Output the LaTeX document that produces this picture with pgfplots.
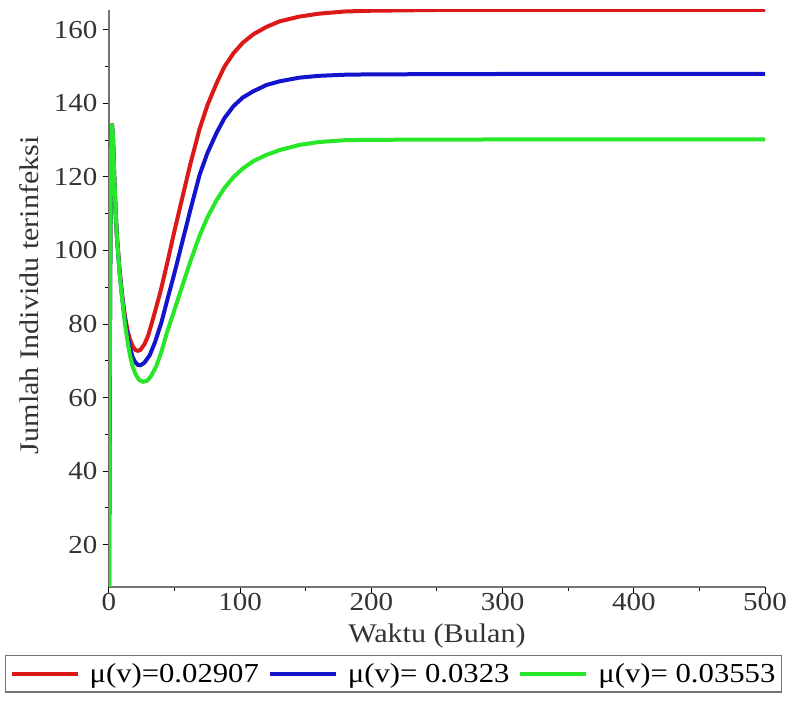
\documentclass[border=0pt]{standalone}
\usepackage{pgfplots}
\pgfplotsset{compat=1.18}
\usepackage{fontspec}
\setmainfont{Liberation Serif}[FakeStretch=1.12]
\definecolor{cred}{RGB}{220,25,25}
\definecolor{cblue}{RGB}{20,20,205}
\definecolor{cgreen}{RGB}{40,230,40}
\begin{document}
\begin{tikzpicture}
\begin{axis}[
    at={(0,0)}, anchor=south west,
    scale only axis,
    width=656bp, height=577bp,
    xmin=0, xmax=500,
    ymin=8.5, ymax=165.4,
    axis x line=bottom, axis y line=left,
    axis line style={-, draw=black!55, line width=1.2bp},
    xtick={0,100,...,500},
    ytick={20,40,...,160},
    minor x tick num=1, minor y tick num=1,
    tick align=outside,
    major tick length=6bp, minor tick length=4bp,
    tick style={black, line width=1bp},
    /pgf/number format/assume math mode=true,
    ticklabel style={font=\fontsize{26}{28}\selectfont, text=black!80},
    xticklabel style={yshift=1bp, inner ysep=1bp},
    yticklabel style={xshift=-2bp},
    xlabel={Waktu (Bulan)},
    ylabel={Jumlah Individu terinfeksi},
    label style={font=\fontsize{27}{30}\selectfont, text=black!80},
    xlabel style={at={(axis description cs:0.5,-0.085)}, anchor=center, inner ysep=1bp},
    ylabel style={at={(axis description cs:-0.122,0.506)}, anchor=center},
    legend columns=3,
    legend style={at={(0.4337,-0.1178)}, anchor=north,
        font=\fontsize{27.5}{30}\selectfont, draw=black!55, line width=1.5bp,
        inner xsep=4bp, inner ysep=6bp,
        /tikz/every even column/.append style={column sep=7bp},
        /tikz/every odd column/.append style={column sep=8bp}},
    legend image code/.code={\draw[#1] (0bp,0bp) -- (66bp,0bp);},
]
\addplot[cred, line width=4bp] coordinates {
(0,8.5) (0.5,60) (1,100) (1.5,125) (2.2,134.5) (3,131) (4,120) (5,111) (6,104)
(8,95) (10,88) (12,82.5) (14,78.5) (16,75.8) (18,74) (20,73) (22,72.7) (24,73)
(27,74.5) (30,77) (34,82) (39,88.5) (44,96) (50,105.5) (56,114.5) (62,123.5)
(69,133) (75,139.5) (82,145.5) (88,150) (95,153.7) (102,156.5) (110,158.8)
(120,160.8) (130,162.3) (145,163.6) (160,164.4) (180,165) (200,165.2)
(250,165.4) (300,165.4) (500,165.4)};
\addlegendentry{μ(v)=0.02907}
\addplot[cblue, line width=4bp] coordinates {
(0,8.5) (0.5,60) (1,100) (1.5,125) (2.2,134.5) (3,131) (4,120) (5,111) (6,104)
(8,94.5) (10,87.5) (12,81.5) (14,77) (16,73.5) (18,71) (20,69.6) (22,68.9)
(24,68.8) (27,69.5) (31,71.5) (35,75) (40,80.5) (44,86) (50,94) (56,102.5)
(62,111) (69,120.5) (75,126.5) (82,132) (88,136) (95,139.3) (102,141.6)
(110,143.3) (120,145) (130,146) (145,147) (160,147.5) (180,147.8) (200,147.9)
(300,148) (500,148)};
\addlegendentry{μ(v)= 0.0323}
\addplot[cgreen, line width=4bp] coordinates {
(0,8.5) (0.5,60) (1,100) (1.5,125) (2.2,134.5) (3,131) (4,120) (5,111) (6,104)
(8,94) (10,87) (12,80.5) (14,75.5) (16,71.5) (18,68.5) (20,66.5) (23,64.8)
(26,64.3) (29,64.6) (32,65.8) (36,68.5) (40,72.5) (44,77.5) (50,84) (56,90.5)
(62,97) (69,104) (75,109) (82,113.7) (88,117) (95,120) (102,122.3) (110,124.3)
(120,126) (130,127.3) (145,128.7) (160,129.5) (180,130) (200,130.1) (300,130.2)
(500,130.2)};
\addlegendentry{μ(v)= 0.03553}
\end{axis}
\pgfresetboundingbox
\useasboundingbox (-109bp,-117bp) rectangle (678bp,587bp);
\end{tikzpicture}
\end{document}
